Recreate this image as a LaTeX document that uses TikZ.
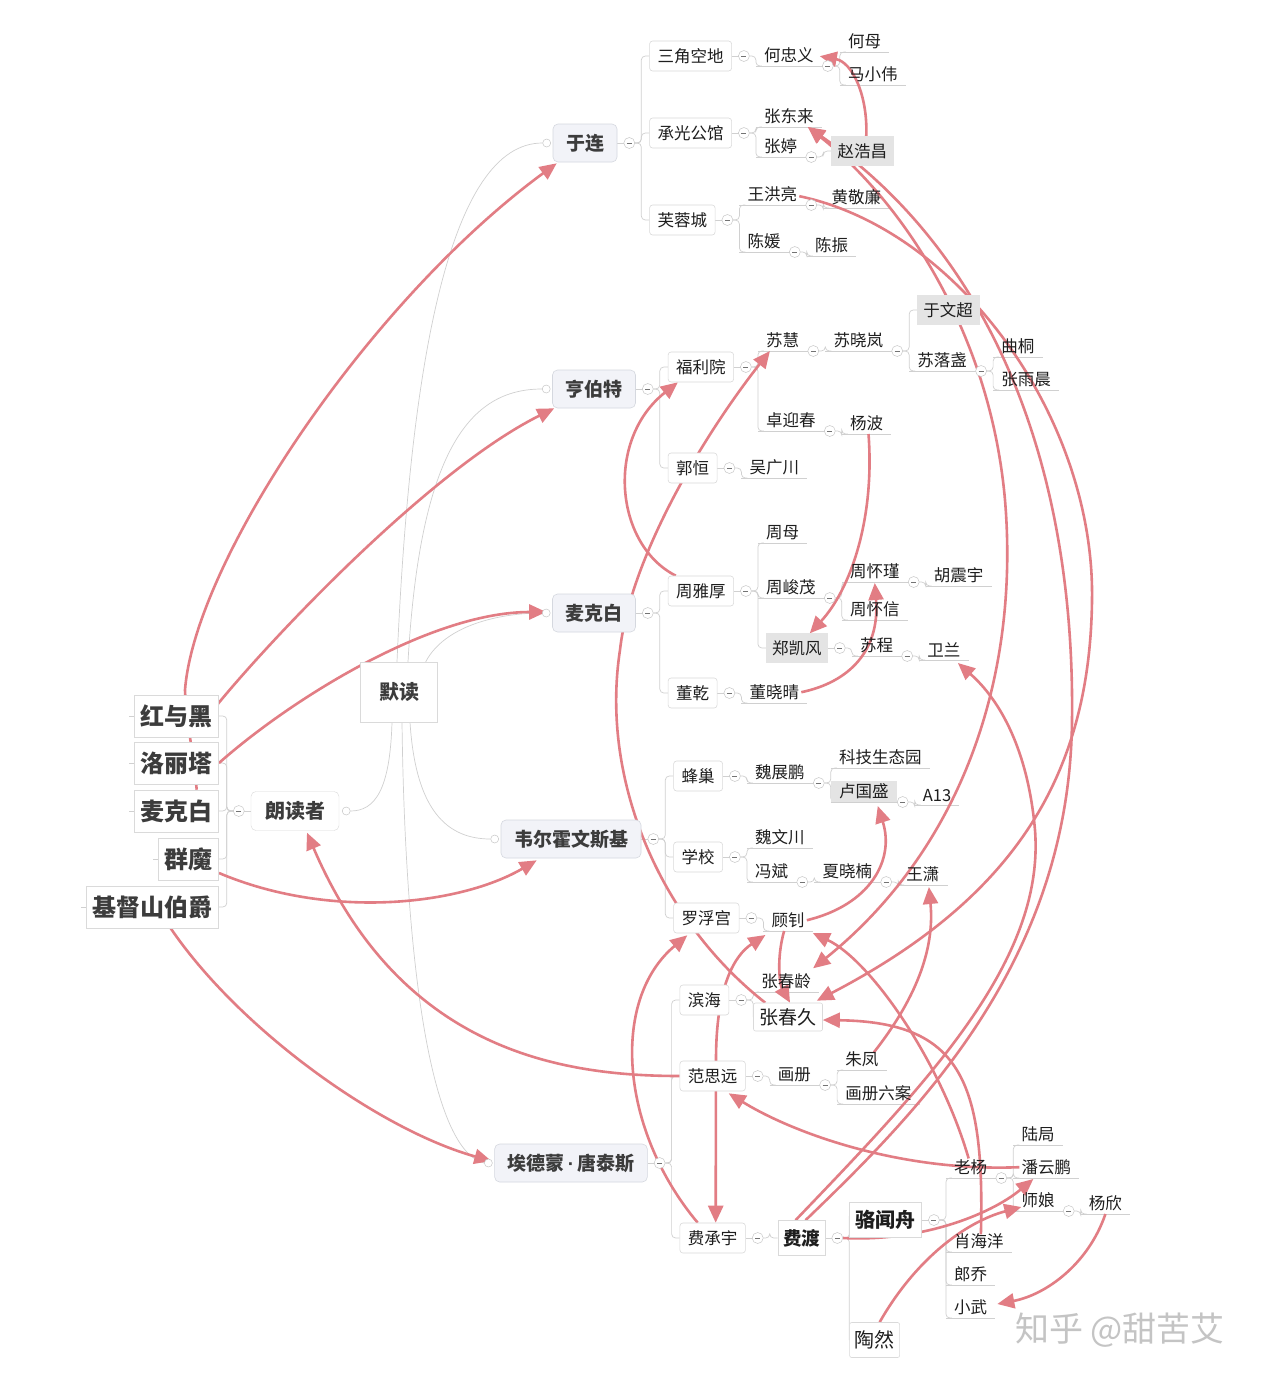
\documentclass[tikz,border=0pt]{standalone}
\usepackage{fontspec}
\setmainfont{Noto Sans CJK SC}
\newfontfamily\latinf{Liberation Sans}
\usetikzlibrary{arrows.meta,calc}
\pgfdeclarelayer{bottom}
\pgfdeclarelayer{background}
\pgfsetlayers{bottom,background,main}
\definecolor{redc}{HTML}{E27D84}
\definecolor{treec}{HTML}{D0D0D0}
\definecolor{txt}{HTML}{1E1E1E}
\definecolor{btxt}{HTML}{3C3C3C}
\definecolor{l1fill}{HTML}{F2F3F8}
\definecolor{l1draw}{HTML}{D5D8DF}
\definecolor{boxdraw}{HTML}{DADADA}
\definecolor{hlfill}{HTML}{E4E4E4}
\definecolor{wmc}{HTML}{C4C4C4}
\newcommand{\fs}[1]{\fontsize{#1}{#1}\selectfont}
\newcommand{\onbg}[1]{\begin{pgfonlayer}{background}#1\end{pgfonlayer}}
\newcommand{\cb}[1]{\node[ccirc] (c-#1) at ($(#1.east)+(12,0)$) {};\onbg{\draw[tree] (#1.east) -- (c-#1.center);}}
\newcommand{\cp}[1]{\node[ccirc] (c-#1) at ($(#1.south east)+(6,0)$) {};\onbg{\draw[tree] (#1.south east) -- (c-#1.center);}}
\newcommand{\kidp}[5][]{%
  \coordinate (sp) at ($(c-#2)+(12,0)$);
  \node[plain,#1] (#3) at (sp |- 0,#4) {#5};
  \onbg{\draw[tree] (#3.south west) -- (#3.south east);
  \draw[tree] (c-#2.east) -- (sp) |- ($(#3.south west)+(6,0)$);}}
\newcommand{\kidb}[5][box]{%
  \coordinate (sp) at ($(c-#2)+(12,0)$);
  \node[#1,anchor=west,xshift=8pt] (#3) at (sp |- 0,#4) {#5};
  \onbg{\draw[tree] (c-#2.east) -- (sp) |- (#3.west);}}
\begin{document}
\begin{tikzpicture}[x=1pt,y=-1pt,
  box/.style={draw=boxdraw,fill=white,rounded corners=3pt,inner xsep=8pt,inner ysep=0pt,minimum height=30pt,font=\fs{16.5},text=txt,line width=0.6pt},
  hlb/.style={fill=hlfill,draw=hlfill,inner xsep=6pt,inner ysep=0pt,minimum height=29pt,font=\fs{16.5},text=txt},
  bigbox/.style={draw=boxdraw,fill=white,rounded corners=2pt,inner xsep=6pt,minimum height=28pt,font=\fs{19},text=txt,line width=0.6pt,xshift=-8pt},
  bbox/.style={draw=boxdraw,fill=white,inner xsep=5pt,minimum height=35pt,font=\fs{18.5}\bfseries,text=txt,line width=0.6pt},
  bboxl/.style={bbox,xshift=-8pt,inner xsep=6pt,font=\fs{20}\bfseries},
  trbox/.style={draw=boxdraw,fill=white,rounded corners=2pt,inner xsep=5pt,minimum height=35pt,font=\fs{20},text=txt,line width=0.6pt,xshift=-8pt},
  lone/.style={draw=l1draw,fill=l1fill,rounded corners=5pt,inner xsep=13pt,minimum height=38pt,font=\fs{19}\bfseries,text=btxt,line width=0.6pt},
  plain/.style={inner xsep=8pt,inner ysep=3pt,font=\fs{16.5},text=txt,anchor=south west},
  hlp/.style={fill=hlfill},
  lbox/.style={draw=boxdraw,fill=white,inner xsep=6pt,minimum height=42pt,font=\fs{24}\bfseries,text=btxt,anchor=east,line width=0.6pt},
  ccirc/.style={circle,draw=black!22,fill=white,minimum size=11pt,inner sep=0pt,line width=0.5pt,
    path picture={\draw[black!55,line width=0.7pt] ($(path picture bounding box.center)+(-2.5,0)$) -- ($(path picture bounding box.center)+(2.5,0)$);}},
  ocirc/.style={circle,draw=black!22,fill=white,minimum size=8pt,inner sep=0pt,line width=0.5pt},
  tree/.style={draw=treec,line width=0.7pt,rounded corners=4pt},
  rootl/.style={draw=treec,line width=0.7pt},
  rel/.style={draw=redc,line width=2.6pt,-{Triangle[length=17pt,width=15pt]}},
  rel2/.style={draw=redc,line width=2.6pt,{Triangle[length=17pt,width=15pt]}-{Triangle[length=17pt,width=15pt]}}]
\begin{pgfonlayer}{bottom}
\fill[white] (0,0) rectangle (1270,1382);
\end{pgfonlayer}
\useasboundingbox (0,0) rectangle (1270,1382);

% root and level 1
\node[draw=boxdraw,fill=white,minimum width=77pt,minimum height=60pt,font=\fs{20}\bfseries,text=btxt] (mo) at (399,692) {默读};
\node[lone] (yulian) at (585,143) {于连};
\node[lone] (hengbote) at (594,389) {亨伯特};
\node[lone] (maikebai) at (594,613) {麦克白};
\node[lone] (weier) at (571,839) {韦尔霍文斯基};
\node[lone] (aide) at (571,1163) {埃德蒙{\latinf\bfseries\,·\,}唐泰斯};
\foreach \n in {yulian,hengbote,maikebai,weier,aide}{\node[ocirc] (o-\n) at ($(\n.west)+(-6,0)$) {};}
\node[draw=boxdraw,fill=white,rounded corners=5pt,minimum height=39pt,inner xsep=14pt,font=\fs{20}\bfseries,text=btxt] (ldz) at (295,811) {朗读者};
\node[ocirc] (o-ldz) at ($(ldz.east)+(7,0)$) {};
\node[ccirc] (c-ldz) at ($(ldz.west)+(-12,0)$) {};
\onbg{\draw[tree] (ldz.west) -- (c-ldz.center);}
\begin{pgfonlayer}{background}
\draw[rootl] ($(mo.north)+(-2,0)$) .. controls (410,360) and (450,143) .. (o-yulian.west);
\draw[rootl] ($(mo.north)+(9,0)$) .. controls (420,450) and (470,389) .. (o-hengbote.west);
\draw[rootl] ($(mo.north east)+(-12,0)$) .. controls (445,625) and (500,613) .. (o-maikebai.west);
\draw[rootl] ($(mo.south)+(11,0)$) .. controls (415,800) and (440,839) .. (o-weier.west);
\draw[rootl] ($(mo.south)+(3,0)$) .. controls (405,960) and (430,1150) .. (o-aide.west);
\draw[rootl] ($(mo.south)+(-7,0)$) .. controls (390,790) and (375,811) .. (o-ldz.east);
\end{pgfonlayer}

% left books
\node[lbox] (hyh) at (219,716) {红与黑};
\node[lbox] (llt) at (219,763) {洛丽塔};
\node[lbox] (mkbL) at (219,811) {麦克白};
\node[lbox] (qm) at (219,859) {群魔};
\node[lbox] (jdsbj) at (219,907) {基督山伯爵};
\begin{pgfonlayer}{background}
\foreach \n in {hyh,llt,mkbL,qm,jdsbj}{
  \draw[tree] (c-ldz.center) -- ++(-12,0) |- (\n.east);
  \draw[tree] (\n.west) -- ++(-5,0);}
\end{pgfonlayer}

% circles level 1
\cb{yulian}\cb{hengbote}\cb{maikebai}\cb{weier}\cb{aide}

% 于连
\kidb{yulian}{sjkd}{56}{三角空地}
\kidb{yulian}{cggg}{133}{承光公馆}
\kidb{yulian}{frc}{220}{芙蓉城}
\cb{sjkd}\cb{cggg}\cb{frc}
\kidp{sjkd}{hzy}{66}{何忠义}\cp{hzy}
\kidp{hzy}{hm}{52}{何母}
\kidp{hzy}{mxw}{85}{马小伟}
\kidp{cggg}{zdl}{127}{张东来}
\kidp{cggg}{zt}{157}{张婷}\cp{zt}
\kidb[hlb]{zt}{zhc}{151}{赵浩昌}
\kidp{frc}{whl}{205}{王洪亮}\cp{whl}
\kidp{whl}{hjl}{208}{黄敬廉}
\kidp{frc}{cy}{252}{陈媛}\cp{cy}
\kidp{cy}{cz}{256}{陈振}

% 亨伯特
\kidb{hengbote}{fly}{367}{福利院}
\kidb{hengbote}{gh}{468}{郭恒}
\cb{fly}\cb{gh}
\kidp{fly}{sh}{351}{苏慧}\cp{sh}
\kidp{sh}{sxl}{351}{苏晓岚}\cp{sxl}
\kidb[hlb]{sxl}{ywc}{310}{于文超}
\kidp{sxl}{slz}{371}{苏落盏}\cp{slz}
\kidp{slz}{qt}{357}{曲桐}
\kidp{slz}{zyc}{390}{张雨晨}
\kidp{fly}{zyx}{431}{卓迎春}\cp{zyx}
\kidp{zyx}{yb}{434}{杨波}
\kidp{gh}{wgc}{478}{吴广川}

% 麦克白
\kidb{maikebai}{zyh}{591}{周雅厚}
\kidb{maikebai}{dq}{693}{董乾}
\cb{zyh}\cb{dq}
\kidp{zyh}{zm}{543}{周母}
\kidp{zyh}{zjm}{598}{周峻茂}\cp{zjm}
\kidp{zjm}{zhj}{582}{周怀瑾}\cp{zhj}
\kidp{zhj}{hzyu}{586}{胡震宇}
\kidp{zjm}{zhx}{620}{周怀信}
\kidb[hlb]{zyh}{zkf}{648}{郑凯风}\cb{zkf}
\kidp{zkf}{sc}{656}{苏程}\cp{sc}
\kidp{sc}{wl}{660}{卫兰}
\kidp{dq}{dxq}{703}{董晓晴}

% 韦尔霍文斯基
\kidb{weier}{fc}{776}{蜂巢}
\kidb{weier}{xx}{857}{学校}
\kidb{weier}{lfg}{918}{罗浮宫}
\cb{fc}\cb{xx}\cb{lfg}
\kidp{fc}{wzp}{783}{魏展鹏}\cp{wzp}
\kidp{wzp}{kj}{768}{科技生态园}
\kidp[hlp]{wzp}{lgs}{802}{卢国盛}\cp{lgs}
\kidp{lgs}{a13}{805}{A13}
\kidp{xx}{wwc}{848}{魏文川}
\kidp{xx}{fb}{882}{冯斌}\cp{fb}
\kidp{fb}{xxn}{882}{夏晓楠}\cp{xxn}
\kidp{xxn}{wx}{885}{王潇}
\kidp{lfg}{gz}{931}{顾钊}

% 埃德蒙·唐泰斯
\kidb{aide}{bh}{1000}{滨海}
\kidb{aide}{fsy}{1076}{范思远}
\kidb{aide}{fcy}{1238}{费承宇}
\cb{bh}\cb{fsy}\cb{fcy}
\kidp{bh}{zcl}{992}{张春龄}
\kidb[bigbox]{bh}{zcj}{1017}{张春久}
\kidp{fsy}{hc}{1085}{画册}\cp{hc}
\kidp{hc}{zf}{1070}{朱凤}
\kidp{hc}{hcla}{1104}{画册六案}
\kidb[bbox]{fcy}{fd}{1238}{费渡}\cb{fd}
\kidb[bboxl]{fd}{lwz}{1220}{骆闻舟}\cb{lwz}
\kidb[trbox]{fd}{tr}{1340}{陶然}
\kidp{lwz}{ly}{1178}{老杨}\cp{ly}
\kidp{ly}{lj}{1145}{陆局}
\kidp{ly}{pyp}{1178}{潘云鹏}
\kidp{ly}{sn}{1211}{师娘}\cp{sn}
\kidp{sn}{yx}{1214}{杨欣}
\kidp{lwz}{xhy}{1252}{肖海洋}
\kidp{lwz}{lq}{1285}{郎乔}
\kidp{lwz}{xw}{1318}{小武}

\node[font=\fs{34},text=wmc] (wm) at (1120,1330) {知乎 @甜苦艾};

% relationships
\begin{pgfonlayer}{background}
\draw[rel] ($(mkbL.north)+(20,0)$) .. controls (193,750) and (186,720) .. (185,690) .. controls (195,560) and (370,300) .. ($(yulian.south west)+(4,1)$);
\draw[rel] ($(hyh.east)+(-2,-11)$) .. controls (270,640) and (430,470) .. ($(hengbote.south west)+(2,0)$);
\draw[rel] (llt.east) .. controls (290,700) and (430,612) .. ($(maikebai.west)+(-6,-1)$);
\draw[rel] ($(qm.east)+(0,14)$) .. controls (330,920) and (460,905) .. ($(weier.south west)+(36,2)$);
\draw[rel] ($(jdsbj.south)+(18,0)$) .. controls (240,1030) and (380,1130) .. ($(aide.west)+(-3,-2)$);
\draw[rel] (fsy.west) .. controls (560,1076) and (400,1050) .. ($(ldz.south)+(12,2)$);
\draw[rel] ($(zyh.north west)+(8,0)$) .. controls (615,545) and (605,440) .. ($(fly.south west)+(10,0)$);
\draw[rel] ($(zcj.north west)+(12,0)$) .. controls (660,920) and (600,780) .. (620,650) .. controls (630,560) and (700,440) .. ($(sh.south west)+(12,0)$);
\draw[rel] ($(yb.south)+(2,0)$) .. controls (875,520) and (850,590) .. ($(zkf.north east)+(-18,0)$);
\draw[rel] ($(dxq.east)+(-6,0)$) .. controls (850,682) and (880,650) .. ($(zhj.south)+(0,1)$);
\draw[rel] ($(gz.east)+(-6,0)$) .. controls (870,905) and (895,860) .. ($(lgs.south)+(14,4)$);
\draw[rel] ($(zf.north)+(12,4)$) .. controls (915,1000) and (935,950) .. ($(wx.south)+(6,2)$);
\draw[rel] ($(fcy.north)+(-15,0)$) .. controls (620,1130) and (610,1000) .. ($(lfg.south west)+(14,2)$);
\draw[rel2] ($(fcy.north)+(3,0)$) -- (716,1060) .. controls (716,985) and (735,955) .. ($(gz.south west)+(2,4)$);
\draw[rel] ($(gz.south)+(-4,0)$) .. controls (776,960) and (780,985) .. ($(zcj.north)+(2,0)$);
\draw[rel] ($(ly.north)+(-2,2)$) .. controls (940,1060) and (870,960) .. ($(gz.south east)+(0,2)$);
\draw[rel] ($(xhy.north)+(2,4)$) .. controls (985,1080) and (960,1022) .. ($(zcj.east)+(0,3)$);
\draw[rel] (yx.south) .. controls (1088,1265) and (1045,1295) .. ($(xw.south east)+(2,-14)$);
\draw[rel] ($(tr.north)+(5,0)$) .. controls (915,1260) and (965,1222) .. ($(sn.south west)+(8,-4)$);
\draw[rel] (c-fd.east) .. controls (920,1242) and (990,1215) .. ($(pyp.south west)+(20,1)$);
\draw[rel] ($(pyp.west)+(6,0)$) .. controls (900,1172) and (793,1133) .. ($(fsy.south)+(16,2)$);
\draw[rel] ($(zhc.north)+(4,0)$) .. controls (868,95) and (852,62) .. ($(hzy.east)+(-2,1)$);
% long relations on the right
\draw[rel] ($(whl.east)+(-6,2)$) .. controls (960,230) and (1095,420) .. (1092,600) .. controls (1090,780) and (1010,900) .. ($(zcj.north east)+(-6,-2)$);
\draw[rel2] ($(zdl.south east)+(-14,0)$) .. controls (900,200) and (990,330) .. (1005,500) .. controls (1020,680) and (960,850) .. ($(zcl.north east)+(-6,-2)$);
\draw[rel] ($(fd.north)+(4,0)$) .. controls (920,1110) and (1070,960) .. (1072,720) .. controls (1075,480) and (1000,260) .. ($(zdl.south east)+(-14,0)$);
\draw[rel] ($(fd.north)+(-6,0)$) .. controls (930,1080) and (1045,960) .. (1035,830) .. controls (1028,750) and (1000,700) .. ($(wl.south)+(14,3)$);
\end{pgfonlayer}
\end{tikzpicture}
\end{document}
